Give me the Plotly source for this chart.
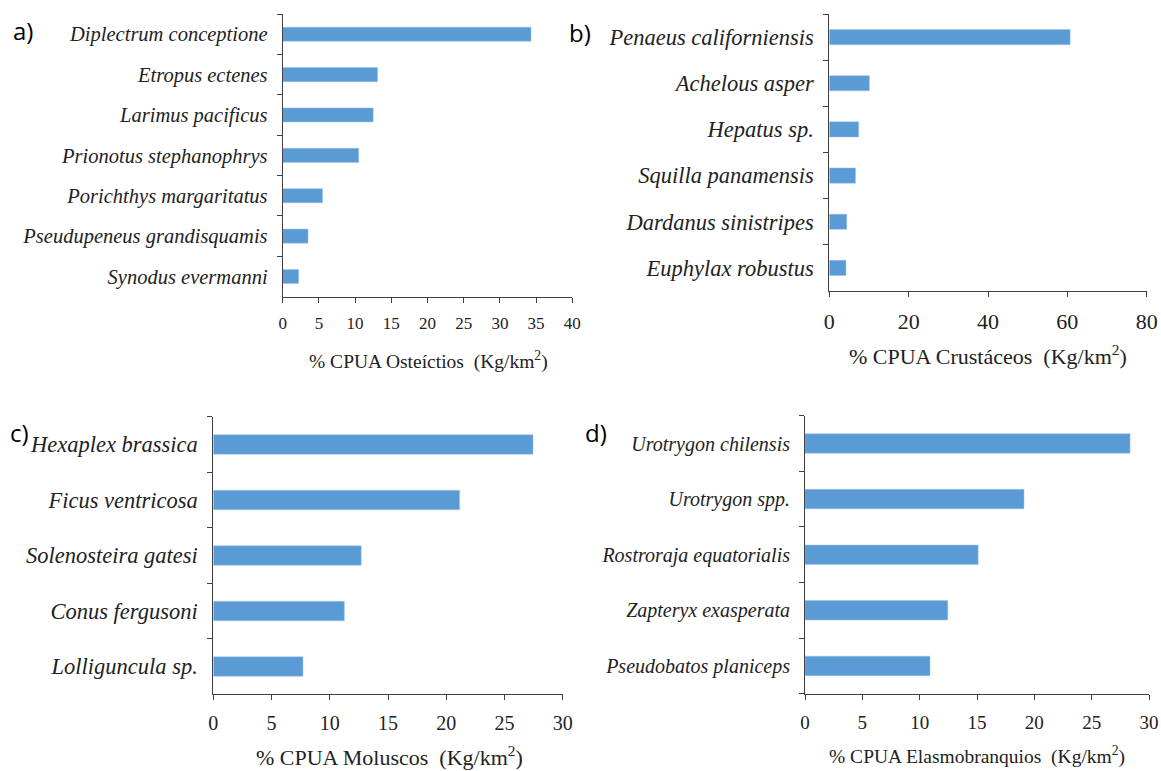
import plotly.graph_objects as go

# a) Osteictios
fish_names = ["Diplectrum conceptione", "Etropus ectenes", "Larimus pacificus",
              "Prionotus stephanophrys", "Porichthys margaritatus",
              "Pseudupeneus grandisquamis", "Synodus evermanni"]
fish_vals = [34.3, 13.1, 12.5, 10.5, 5.5, 3.5, 2.2]

# b) Crustaceos
crust_names = ["Penaeus californiensis", "Achelous asper", "Hepatus sp.",
               "Squilla panamensis", "Dardanus sinistripes", "Euphylax robustus"]
crust_vals = [60.7, 10.1, 7.4, 6.6, 4.4, 4.2]

# c) Moluscos
moll_names = ["Hexaplex brassica", "Ficus ventricosa", "Solenosteira gatesi",
              "Conus fergusoni", "Lolliguncula sp."]
moll_vals = [27.45, 21.15, 12.7, 11.25, 7.7]

# d) Elasmobranquios
elas_names = ["Urotrygon chilensis", "Urotrygon spp.", "Rostroraja equatorialis",
              "Zapteryx exasperata", "Pseudobatos planiceps"]
elas_vals = [28.35, 19.1, 15.1, 12.45, 10.9]

W, H = 1161, 771
BAR = "#5B9BD5"
AXC = "#404040"
SERIF = "Liberation Serif"

panels = [
    # names, vals, xmax, dtick, x px range, y px range, bar width, label font, tick font,
    # title, title font, title pos, panel label, label pos
    (fish_names, fish_vals, 40, 5, (282.7, 572.3), (14, 296.7), 0.35, 20.5, 17,
     "% CPUA Osteíctios  (Kg/km<sup>2</sup>)", 19.5, (428, 360), "a)", (23, 31)),
    (crust_names, crust_vals, 80, 20, (829.3, 1146.7), (14, 291), 0.33, 22.5, 22,
     "% CPUA Crustáceos  (Kg/km<sup>2</sup>)", 22, (988, 355), "b)", (580, 33)),
    (moll_names, moll_vals, 30, 5, (213.3, 562.7), (416.7, 694.3), 0.35, 22.5, 20,
     "% CPUA Moluscos  (Kg/km<sup>2</sup>)", 22, (389, 756), "c)", (19, 432)),
    (elas_names, elas_vals, 30, 5, (805, 1149), (415.7, 693.7), 0.35, 20, 19,
     "% CPUA Elasmobranquios  (Kg/km<sup>2</sup>)", 19.5, (977, 755), "d)", (596, 432)),
]

fig = go.Figure()
annotations = []
for i, (names, vals, xmax, dt, xpx, ypx, bw, lf, tf, title, ttf, tpos, lab, lpos) in enumerate(panels):
    n = i + 1
    xa = "x" if n == 1 else f"x{n}"
    ya = "y" if n == 1 else f"y{n}"
    fig.add_trace(go.Bar(
        x=vals, y=names, orientation="h", width=bw,
        marker=dict(color=BAR, line=dict(color="#9DC3E6", width=0.5)),
        xaxis=xa, yaxis=ya, showlegend=False,
    ))
    xkey = "xaxis" if n == 1 else f"xaxis{n}"
    ykey = "yaxis" if n == 1 else f"yaxis{n}"
    fig.update_layout(**{
        xkey: dict(
            domain=[xpx[0] / W, xpx[1] / W], anchor=ya, range=[0, xmax], dtick=dt,
            automargin=False,
            showgrid=False, zeroline=False, showline=True, linecolor=AXC, linewidth=1,
            ticks="outside", ticklen=5, tickcolor=AXC, ticklabelstandoff=6,
            tickfont=dict(family=SERIF, size=tf, color="#222222"),
        ),
        ykey: dict(
            domain=[1 - ypx[1] / H, 1 - ypx[0] / H], anchor=xa,
            automargin=False,
            categoryorder="array", categoryarray=names[::-1],
            showgrid=False, zeroline=False, showline=True, linecolor=AXC, linewidth=1,
            ticks="outside", ticklen=5, tickcolor=AXC, tickson="boundaries",
            ticklabelstandoff=10,
            tickfont=dict(family=SERIF, size=lf, color="#222222", style="italic"),
        ),
    })
    annotations.append(dict(
        text=title, x=tpos[0] / W, y=1 - tpos[1] / H, xref="paper", yref="paper",
        xanchor="center", yanchor="middle", showarrow=False,
        font=dict(family=SERIF, size=ttf, color="#222222"),
    ))
    annotations.append(dict(
        text=lab, x=lpos[0] / W, y=1 - lpos[1] / H, xref="paper", yref="paper",
        xanchor="center", yanchor="middle", showarrow=False,
        font=dict(family="Open Sans", size=24, color="#000000"),
    ))

fig.update_layout(
    template="none",
    width=W, height=H, margin=dict(l=0, r=0, t=0, b=0),
    paper_bgcolor="white", plot_bgcolor="white",
    annotations=annotations,
)

# drop the default page margin so the figure sits at the window's top-left corner
fig.write_html(
    "out.html",
    config={"displayModeBar": False},
    post_script="document.body.style.margin='0';document.body.style.overflow='hidden';",
)
